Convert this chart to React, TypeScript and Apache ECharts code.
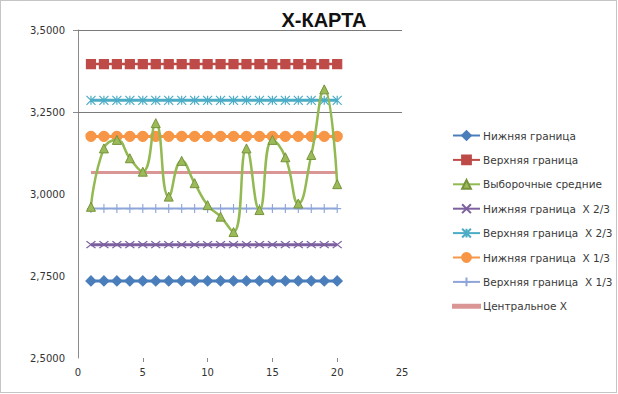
import React, { useEffect, useRef } from 'react';
import * as echarts from 'echarts';

const titleText = 'X-КАРТА';
const sampleNumbers = [1, 2, 3, 4, 5, 6, 7, 8, 9, 10, 11, 12, 13, 14, 15, 16, 17, 18, 19, 20];
const sampleMeans = [2.961, 3.139, 3.165, 3.109, 3.068, 3.216, 2.992, 3.101, 3.033, 2.966, 2.931, 2.884, 3.139, 2.951, 3.165, 3.112, 2.971, 3.119, 3.319, 3.030];
const lowerLimit = 2.735;
const upperLimit = 3.396;
const lowerLimit23 = 2.8455;
const upperLimit23 = 3.2855;
const lowerLimit13 = 3.1755;
const upperLimit13 = 2.9555;
const centerLine = 3.0655;
const seriesNames = [
  'Нижняя граница',
  'Верхняя граница',
  'Выборочные средние',
  'Нижняя граница  X 2/3',
  'Верхняя граница  X 2/3',
  'Нижняя граница  X 1/3',
  'Верхняя граница  X 1/3',
  'Центральное X',
];
const xTickLabels = [0, 5, 10, 15, 20, 25];
const yTickLabels = [2.5, 2.75, 3.0, 3.25, 3.5];
const visibleGridLines = [3.25, 3.5];

const FONT = 'DejaVu Sans';

const constLine = (v: number) => sampleNumbers.map((x) => [x, v]);
const pairs = (vals: number[]) => sampleNumbers.map((x, i) => [x, vals[i]]);

export default function App() {
  const ref = useRef<HTMLDivElement>(null);
  useEffect(() => {
    document.body.style.margin = '0';
    const chart = echarts.init(ref.current!, undefined, { renderer: 'svg' });
    const mk = (
      name: string,
      data: number[][],
      color: string,
      symbol: string,
      symbolSize: number | number[],
      lineWidth: number,
      extra: any = {}
    ) => ({
      type: 'line',
      name,
      data,
      symbol,
      symbolSize,
      lineStyle: { color, width: lineWidth },
      itemStyle: { color, borderColor: color, borderWidth: 1.2 },
      z: 3,
      ...extra,
    });
    const legendData = seriesNames.map((n, i) =>
      i === 7 ? { name: n, icon: 'path://M0,0L27,0L27,3L0,3Z' } : { name: n }
    );
    const option: any = {
      animation: false,
      backgroundColor: '#fff',
      title: {
        text: titleText,
        left: 319,
        top: 5,
        textAlign: 'center',
        textStyle: { fontFamily: 'Liberation Sans', fontWeight: 'bold', fontSize: 20, color: '#111' },
      },
      graphic: [
        {
          type: 'rect',
          shape: { x: 0.5, y: 0.5, width: 616, height: 392 },
          style: { fill: 'none', stroke: '#8a8a8a', lineWidth: 1, lineDash: [1, 1] },
          silent: true,
        },
      ],
      legend: {
        orient: 'vertical',
        left: 447,
        top: 125,
        itemWidth: 27,
        itemHeight: 11,
        itemGap: 13.4,
        textStyle: { fontFamily: FONT, fontSize: 10.5, color: '#3a3a3a', padding: [0, 0, 0, -2] },
        data: legendData,
      },
      grid: { left: 78, right: 216, top: 30, bottom: 36 },
      xAxis: {
        type: 'value',
        min: xTickLabels[0],
        max: xTickLabels[xTickLabels.length - 1],
        interval: 5,
        axisLine: { show: false },
        axisTick: { show: true, length: 4, inside: false, customValues: [5, 10, 15, 20], lineStyle: { color: '#8a8a8a' } },
        axisLabel: { fontFamily: FONT, fontSize: 10, color: '#333', margin: 9, customValues: xTickLabels },
        splitLine: { show: false },
      },
      yAxis: {
        type: 'value',
        min: yTickLabels[0],
        max: yTickLabels[yTickLabels.length - 1],
        interval: 0.25,
        axisLine: { show: true, lineStyle: { color: '#8a8a8a' } },
        axisTick: { show: true, length: 5, customValues: visibleGridLines, lineStyle: { color: '#8a8a8a' } },
        axisLabel: {
          fontFamily: FONT,
          fontSize: 10,
          color: '#333',
          margin: 13,
          customValues: yTickLabels,
          formatter: (v: number) => v.toFixed(4).replace('.', ','),
        },
        splitLine: { show: false },
      },
      series: [
        mk(seriesNames[0], constLine(lowerLimit), '#4A7EBB', 'diamond', 10, 3),
        mk(seriesNames[1], constLine(upperLimit), '#BE4B48', 'rect', 9, 2.5),
        mk(seriesNames[2], pairs(sampleMeans), '#93B952', 'triangle', 9, 2.5, {
          smooth: 0.5,
          z: 5,
          itemStyle: { color: '#9BBB59', borderColor: '#77933C', borderWidth: 1 },
        }),
        mk(seriesNames[3], constLine(lowerLimit23), '#7D60A0', 'path://M0,0L10,10M10,0L0,10', [9, 7], 3),
        mk(seriesNames[4], constLine(upperLimit23), '#4BACC6', 'path://M0,0L10,10M10,0L0,10M5,0L5,10', 9, 3),
        mk(seriesNames[5], constLine(lowerLimit13), '#F79646', 'circle', 10, 3),
        mk(seriesNames[6], constLine(upperLimit13), '#8EA5DA', 'path://M0,5L10,5M5,0L5,10', [8, 9], 2),
        mk(seriesNames[7], constLine(centerLine), '#D99694', 'none', 0, 3, {
          markLine: {
            silent: true,
            symbol: 'none',
            label: { show: false },
            lineStyle: { color: '#7a7a7a', width: 1, type: 'solid' },
            data: visibleGridLines.map((v) => ({ yAxis: v })),
            z: 1,
          },
        }),
      ],
    };
    chart.setOption(option);
    return () => chart.dispose();
  }, []);
  return <div ref={ref} style={{ width: 618, height: 394 }} />;
}
